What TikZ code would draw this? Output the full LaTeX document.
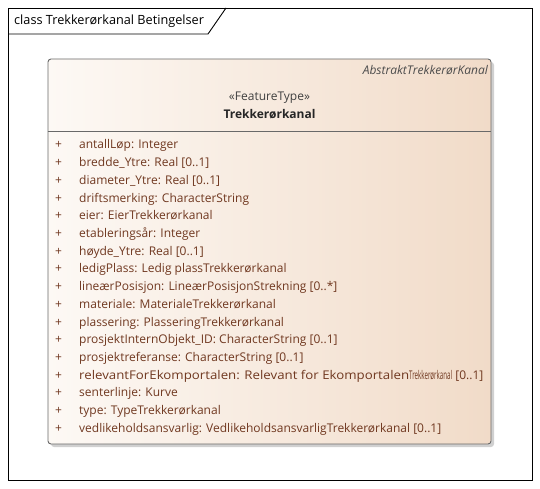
\documentclass[tikz,border=0pt]{standalone}
\usepackage{graphicx}
\usepackage{fontspec}
\setmainfont{Open Sans}
\usetikzlibrary{shadows}
\definecolor{attrbrown}{RGB}{112,56,32}
\definecolor{boxleft}{RGB}{253,249,245}
\definecolor{boxright}{RGB}{241,219,200}
\definecolor{boxline}{RGB}{105,105,105}

\begin{document}
\begin{tikzpicture}[x=1pt, y=-1pt,
  txt/.style={inner sep=0pt, font=\fontsize{12}{14}\selectfont},
  attr/.style={txt, anchor=base west, text=attrbrown},
  classbox/.style={draw=boxline, line width=0.9pt, rounded corners=3pt,
    left color=boxleft, right color=boxright,
    drop shadow={shadow xshift=3pt, shadow yshift=-3pt, fill=gray!60, opacity=0.6}}]
  \useasboundingbox (0,0) rectangle (540,489);
  \fill[white] (0,0) rectangle (540,489);
  % frame and tab
  \draw[line width=0.9pt] (8,8) rectangle (532,480);
  \draw[line width=0.9pt] (8,34) -- (208,34) -- (226,8);
  \node[txt, anchor=base west, font=\fontsize{12.7}{14}\selectfont] (title) at (14,25) {class Trekkerørkanal Betingelser};
  % class
  \node[classbox, minimum width=443pt, minimum height=385pt] (cls) at (269.5,251.5) {};
  \coordinate (sep) at (0,131);
  \draw[boxline, line width=0.9pt] (cls.west |- sep) -- (cls.east |- sep);
  \node[txt, anchor=base east, font=\fontsize{12}{14}\selectfont\itshape, text=black!70] (parent) at (488,75) {AbstraktTrekkerørKanal};
  \node[txt, anchor=base, text=black!75] (stereo) at (269.5,101) {«FeatureType»};
  \node[txt, anchor=base, font=\fontsize{12}{14}\selectfont\bfseries, text=black!85] (name) at (269.5,119) {Trekkerørkanal};
  % attributes
  \node[attr] (a1) at (55,149.0) {\makebox[24pt][l]{+}antallLøp: Integer};
  \node[attr] (a2) at (55,166.7) {\makebox[24pt][l]{+}bredde\_Ytre: Real [0..1]};
  \node[attr] (a3) at (55,184.4) {\makebox[24pt][l]{+}diameter\_Ytre: Real [0..1]};
  \node[attr] (a4) at (55,202.1) {\makebox[24pt][l]{+}driftsmerking: CharacterString};
  \node[attr] (a5) at (55,219.8) {\makebox[24pt][l]{+}eier: EierTrekkerørkanal};
  \node[attr] (a6) at (55,237.5) {\makebox[24pt][l]{+}etableringsår: Integer};
  \node[attr] (a7) at (55,255.2) {\makebox[24pt][l]{+}høyde\_Ytre: Real [0..1]};
  \node[attr] (a8) at (55,272.9) {\makebox[24pt][l]{+}ledigPlass: Ledig plassTrekkerørkanal};
  \node[attr] (a9) at (55,290.6) {\makebox[24pt][l]{+}lineærPosisjon: LineærPosisjonStrekning [0..*]};
  \node[attr] (a10) at (55,308.3) {\makebox[24pt][l]{+}materiale: MaterialeTrekkerørkanal};
  \node[attr] (a11) at (55,326.0) {\makebox[24pt][l]{+}plassering: PlasseringTrekkerørkanal};
  \node[attr] (a12) at (55,343.7) {\makebox[24pt][l]{+}prosjektInternObjekt\_ID: CharacterString [0..1]};
  \node[attr] (a13) at (55,361.4) {\makebox[24pt][l]{+}prosjektreferanse: CharacterString [0..1]};
  \node[attr] (a14) at (55,379.1) {\makebox[24pt][l]{+}\resizebox{330pt}{\height}{relevantForEkomportalen: Relevant for Ekomportalen}\resizebox{43pt}{\height}{Trekkerørkanal} [0..1]};
  \node[attr] (a15) at (55,396.8) {\makebox[24pt][l]{+}senterlinje: Kurve};
  \node[attr] (a16) at (55,414.5) {\makebox[24pt][l]{+}type: TypeTrekkerørkanal};
  \node[attr] (a17) at (55,432.2) {\makebox[24pt][l]{+}vedlikeholdsansvarlig: VedlikeholdsansvarligTrekkerørkanal [0..1]};
\end{tikzpicture}
\end{document}
